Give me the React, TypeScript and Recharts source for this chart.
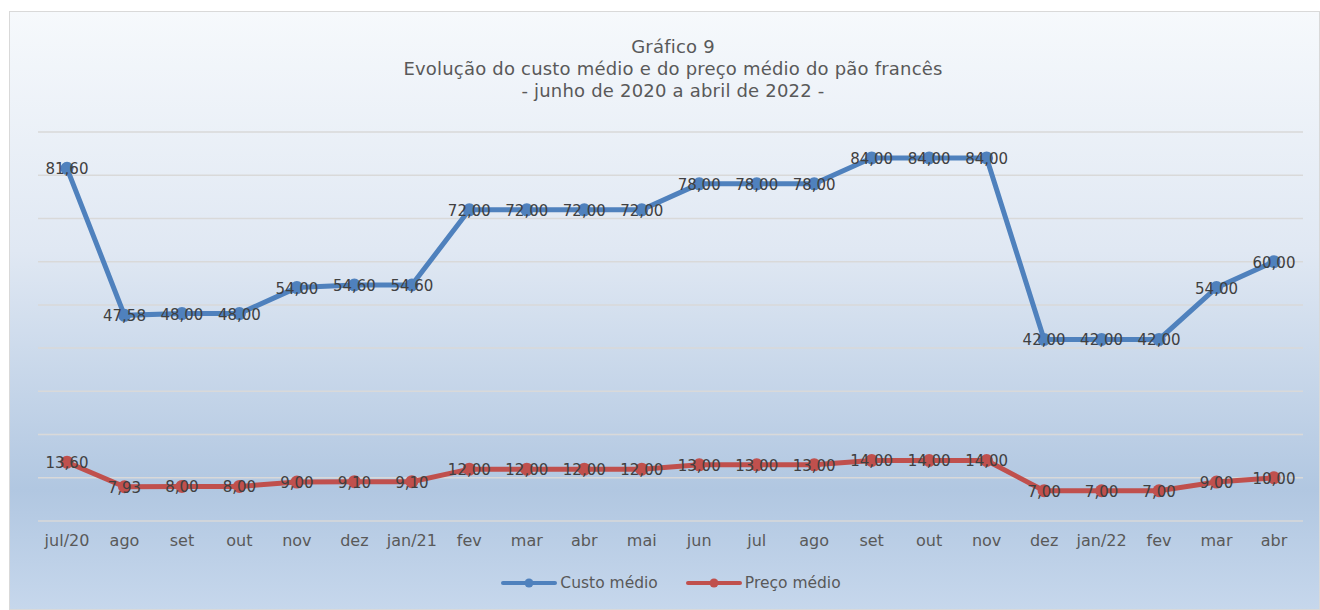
import React from 'react';
import { LineChart, Line, XAxis, YAxis, CartesianGrid, Legend, LabelList } from 'recharts';

// Months from jul/20 to abr/22
const months = [
  'jul/20', 'ago', 'set', 'out', 'nov', 'dez', 'jan/21', 'fev', 'mar', 'abr', 'mai',
  'jun', 'jul', 'ago', 'set', 'out', 'nov', 'dez', 'jan/22', 'fev', 'mar', 'abr',
];

const custoMedio = [
  81.6, 47.58, 48, 48, 54, 54.6, 54.6, 72, 72, 72, 72,
  78, 78, 78, 84, 84, 84, 42, 42, 42, 54, 60,
];

const precoMedio = [
  13.6, 7.93, 8, 8, 9, 9.1, 9.1, 12, 12, 12, 12,
  13, 13, 13, 14, 14, 14, 7, 7, 7, 9, 10,
];

const yTicks = [0, 10, 20, 30, 40, 50, 60, 70, 80, 90];

const titleLines = [
  'Gráfico 9',
  'Evolução do custo médio e do preço médio do pão francês',
  '- junho de 2020 a abril de 2022 -',
];

const data = months.map((m, i) => ({ month: m, custo: custoMedio[i], preco: precoMedio[i] }));

const FONT = '"DejaVu Sans", Verdana, sans-serif';
const BLUE = '#4f81bd';
const RED = '#c0504d';

const fmt = (v: number) => v.toFixed(2).replace('.', ',');

const ValueLabel = (props: any) => {
  const { x, y, value } = props;
  return (
    <text x={x} y={y + 1} textAnchor="middle" dominantBaseline="central" fontSize={15} fill="#404040" fontFamily={FONT}>
      {fmt(value)}
    </text>
  );
};

const LegendContent = (props: any) => {
  const { payload } = props;
  return (
    <div style={{ display: 'flex', justifyContent: 'center', gap: 27, fontFamily: FONT, fontSize: 15.5, color: '#595959' }}>
      {(payload || []).map((p: any) => (
        <div key={p.value} style={{ display: 'flex', alignItems: 'center' }}>
          <svg width={58} height={14} style={{ marginRight: 2 }}>
            <line x1={3} y1={7} x2={55} y2={7} stroke={p.color} strokeWidth={4} strokeLinecap="round" />
            <circle cx={29} cy={7} r={4.5} fill={p.color} />
          </svg>
          <span>{p.value}</span>
        </div>
      ))}
    </div>
  );
};

const App = () => {
  return (
    <>
      <style>{'body{margin:0;overflow:hidden}'}</style>
      <div
        style={{
          position: 'relative',
          marginLeft: 9,
          marginTop: 11,
          width: 1311,
          height: 599,
          boxSizing: 'border-box',
          border: '1px solid #d9d9d9',
          background: 'linear-gradient(180deg, #f6f9fc 0%, #e0e8f3 40%, #b1c7e1 80%, #c6d7ec 100%)',
        }}
      >
        <div
          style={{
            position: 'absolute',
            left: 363,
            top: 24,
            width: 600,
            textAlign: 'center',
            fontFamily: FONT,
            fontSize: 18,
            letterSpacing: 0.2,
            lineHeight: '22px',
            color: '#595959',
          }}
        >
          {titleLines.map((t) => (
            <div key={t}>{t}</div>
          ))}
        </div>
        <LineChart width={1309} height={597} data={data} margin={{ top: 120, right: 16, left: 28, bottom: 40 }}>
          <CartesianGrid vertical={false} stroke="#d9d9d9" strokeWidth={1.5} />
          <XAxis
            dataKey="month"
            axisLine={false}
            tickLine={false}
            tickMargin={8}
            height={30}
            interval={0}
            padding={{ left: 29, right: 29 }}
            tick={{ fontSize: 16, fill: '#595959', fontFamily: FONT }}
          />
          <YAxis hide domain={[0, 90]} ticks={yTicks} />
          <Legend
            verticalAlign="bottom"
            wrapperStyle={{ bottom: 17 }}
            content={<LegendContent />}
          />
          <Line
            dataKey="custo"
            name="Custo médio"
            stroke={BLUE}
            strokeWidth={5}
            dot={{ r: 6.5, fill: BLUE, stroke: BLUE, strokeWidth: 0 }}
            activeDot={false}
            isAnimationActive={false}
          >
            <LabelList dataKey="custo" content={<ValueLabel />} />
          </Line>
          <Line
            dataKey="preco"
            name="Preço médio"
            stroke={RED}
            strokeWidth={5}
            dot={{ r: 6.5, fill: RED, stroke: RED, strokeWidth: 0 }}
            activeDot={false}
            isAnimationActive={false}
          >
            <LabelList dataKey="preco" content={<ValueLabel />} />
          </Line>
        </LineChart>
      </div>
    </>
  );
};

export default App;
